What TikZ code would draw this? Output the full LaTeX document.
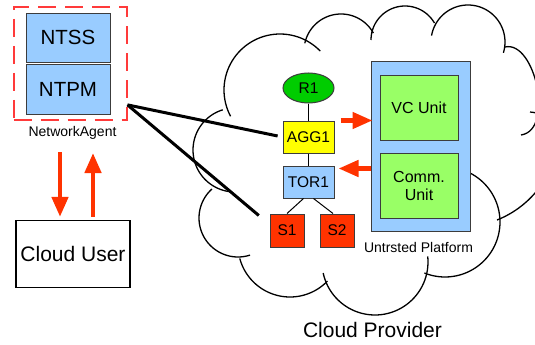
\documentclass[tikz,border=0pt]{standalone}
\usepackage{fontspec}
\setmainfont{Liberation Sans}
\usetikzlibrary{arrows.meta,shapes.geometric}

\definecolor{boxblue}{HTML}{99CCFF}
\definecolor{unitgreen}{HTML}{99FF66}
\definecolor{routergreen}{HTML}{00CC00}
\definecolor{aggyellow}{HTML}{FFFF00}
\definecolor{hotred}{HTML}{FF3300}
\definecolor{dashred}{HTML}{FF3A3A}
\definecolor{edgegray}{HTML}{3C3C3C}

% one puff of the cloud: centre x, centre y, radius, start angle, end angle
\newcommand\cloudlobe[5]{%
  \draw[cloudline] plot[domain=#4:#5,samples=48,smooth]
    ({#1+#3*cos(\x)},{#2+#3*sin(\x)});}

\begin{document}
\begin{tikzpicture}[x=1pt,y=-1pt,
  cloudline/.style={draw=black,line width=1.3pt},
  unitbox/.style={draw=edgegray,line width=1pt,inner sep=0pt,align=center},
  bigtext/.style={font=\fontsize{20.5}{24}\selectfont},
  midtext/.style={font=\fontsize{16}{18}\selectfont},
  smalltext/.style={font=\fontsize{15.5}{18}\selectfont},
  captext/.style={font=\fontsize{14}{16}\selectfont},
  thickline/.style={draw=black,line width=3pt},
  thinline/.style={draw=black,line width=1pt},
  redarrow/.style={draw=hotred,line width=4.5pt,
    -{Triangle[length=20pt,width=16pt,fill=hotred]}},
]
\useasboundingbox (0,0) rectangle (535,345);
\fill[white] (0,0) rectangle (535,345);

% ---- cloud outline ----
\begin{scope}
  \clip (0,0) rectangle (535,345);
  \cloudlobe{235}{150}{42}{94}{253}
  \cloudlobe{238}{218}{39}{72}{228}
  \cloudlobe{290}{245}{52}{44}{165}
  \cloudlobe{375}{262}{53}{-6}{168}
  \cloudlobe{445}{222}{55}{-64}{112}
  \draw[cloudline] (497,220) .. controls (560,195) and (575,115) .. (530,112);
  \draw[cloudline] (505,47) .. controls (535,40) and (555,130) .. (521,135);
  \cloudlobe{468}{42}{37}{190}{377}
  \cloudlobe{405}{40}{34}{180}{330}
  \cloudlobe{341}{51}{37}{192}{331}
  \cloudlobe{280}{90}{56}{152}{316}
\end{scope}
\node[font=\fontsize{21}{24}\selectfont,anchor=base] (provider) at (372.5,337.5) {Cloud Provider};

% ---- network agent ----
\node[draw=dashred,line width=2pt,dash pattern=on 18pt off 9pt,
      minimum width=113pt,minimum height=113pt,inner sep=0pt] (agent) at (70,63.4) {};
\node[unitbox,fill=boxblue,bigtext,minimum width=84pt,minimum height=49pt] (ntss) at (68,37.8) {NTSS};
\node[unitbox,fill=boxblue,bigtext,minimum width=84pt,minimum height=49pt] (ntpm) at (68,89.5) {NTPM};
\node[captext,anchor=base] (agentlabel) at (72.5,136.5) {NetworkAgent};

% ---- cloud user ----
\node[draw=black,line width=1.2pt,inner sep=0pt,font=\fontsize{21}{24}\selectfont,
      minimum width=114pt,minimum height=67pt] (cu) at (73,254) {Cloud User};

% ---- data-centre tree ----
\node[draw=edgegray,line width=1pt,fill=routergreen,ellipse,inner sep=0pt,
      minimum width=51pt,minimum height=30pt,smalltext] (r1) at (308.5,88) {R1};
\node[unitbox,fill=aggyellow,smalltext,minimum width=51pt,minimum height=32pt] (agg) at (308.5,137) {AGG1};
\node[unitbox,fill=boxblue,smalltext,minimum width=51pt,minimum height=32pt] (tor) at (308.5,182) {TOR1};
\node[unitbox,fill=hotred,smalltext,minimum width=34pt,minimum height=33pt] (s1) at (287,230.5) {S1};
\node[unitbox,fill=hotred,smalltext,minimum width=34pt,minimum height=33pt] (s2) at (337,230.5) {S2};

\draw[thinline] (r1) -- (agg);
\draw[thinline] (agg) -- (tor);
\draw[thinline] ([xshift=-5pt]tor.south) -- (s1.north);
\draw[thinline] ([xshift=5pt]tor.south) -- ([xshift=-4pt]s2.north);

% ---- untrusted platform ----
\node[draw=edgegray,line width=1pt,fill=boxblue,inner sep=0pt,
      minimum width=99pt,minimum height=169pt] (plat) at (420.5,146.5) {};
\node[unitbox,fill=unitgreen,midtext,minimum width=78pt,minimum height=65pt] (vc) at (419,107.5) {VC Unit};
\node[unitbox,fill=unitgreen,midtext,minimum width=78pt,minimum height=65pt] (comm) at (419,185.5) {Comm.\\Unit};
\node[captext,anchor=base] (platlabel) at (418.5,252) {Untrsted Platform};

% ---- links from the agent into the provider ----
\coordinate (agentport) at ([yshift=16pt]agent.south east);
\draw[thickline,shorten >=5pt] (agentport) -- (agg.west);
\draw[thickline,shorten >=14pt] (agentport) -- ([yshift=-11pt]s1.north west);

% ---- message arrows ----
\draw[redarrow] ([xshift=6pt]agg.north east) -- ([xshift=2pt]plat.west |- agg.north east);
\draw[redarrow] ([yshift=-3pt]plat.west |- tor.north east) -- ([xshift=4pt,yshift=-3pt]tor.north east);

\coordinate (downtail) at (60,152);
\coordinate (uptip) at (93,153);
\draw[redarrow] (downtail) -- ([yshift=3pt]downtail |- cu.north);
\draw[redarrow] ([yshift=3pt]uptip |- cu.north) -- (uptip);
\end{tikzpicture}
\end{document}
